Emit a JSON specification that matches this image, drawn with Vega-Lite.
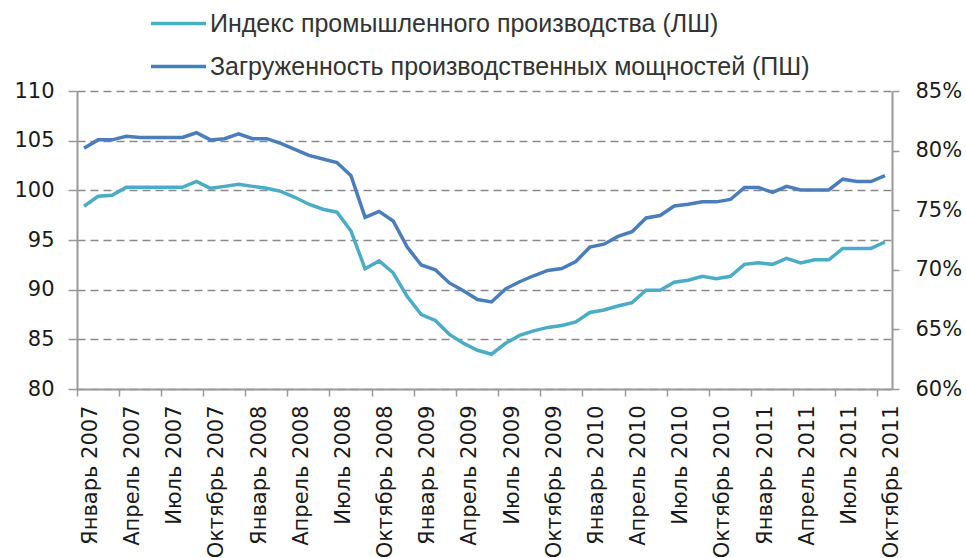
{
  "$schema": "https://vega.github.io/schema/vega-lite/v6.json",
  "autosize": {"type": "none"},
  "padding": {"left": 77, "top": 91, "right": 74, "bottom": 169},
  "width": 815,
  "height": 298,
  "background": "white",
  "config": {
    "view": {"stroke": null},
    "axis": {"labelFont": "DejaVu Sans", "labelFontSize": 21, "labelColor": "#1a1a1a", "domainColor": "#9a9a9a", "domainWidth": 2, "tickColor": "#9a9a9a", "tickWidth": 1.5, "title": null},
    "legend": {"rowPadding": -6}
  },
  "data": {"values": [
    {"m": "Январь 2007", "ip": 98.4, "cu": 80.2},
    {"m": "Февраль 2007", "ip": 99.4, "cu": 80.9},
    {"m": "Март 2007", "ip": 99.5, "cu": 80.9},
    {"m": "Апрель 2007", "ip": 100.3, "cu": 81.2},
    {"m": "Май 2007", "ip": 100.3, "cu": 81.1},
    {"m": "Июнь 2007", "ip": 100.3, "cu": 81.1},
    {"m": "Июль 2007", "ip": 100.3, "cu": 81.1},
    {"m": "Август 2007", "ip": 100.3, "cu": 81.1},
    {"m": "Сентябрь 2007", "ip": 100.9, "cu": 81.5},
    {"m": "Октябрь 2007", "ip": 100.2, "cu": 80.9},
    {"m": "Ноябрь 2007", "ip": 100.4, "cu": 81.0},
    {"m": "Декабрь 2007", "ip": 100.6, "cu": 81.4},
    {"m": "Январь 2008", "ip": 100.4, "cu": 81.0},
    {"m": "Февраль 2008", "ip": 100.2, "cu": 81.0},
    {"m": "Март 2008", "ip": 99.9, "cu": 80.6},
    {"m": "Апрель 2008", "ip": 99.3, "cu": 80.1},
    {"m": "Май 2008", "ip": 98.6, "cu": 79.6},
    {"m": "Июнь 2008", "ip": 98.1, "cu": 79.3},
    {"m": "Июль 2008", "ip": 97.8, "cu": 79.0},
    {"m": "Август 2008", "ip": 95.9, "cu": 77.9},
    {"m": "Сентябрь 2008", "ip": 92.1, "cu": 74.4},
    {"m": "Октябрь 2008", "ip": 92.9, "cu": 74.9},
    {"m": "Ноябрь 2008", "ip": 91.7, "cu": 74.1},
    {"m": "Декабрь 2008", "ip": 89.3, "cu": 71.9},
    {"m": "Январь 2009", "ip": 87.5, "cu": 70.4},
    {"m": "Февраль 2009", "ip": 86.9, "cu": 70.0},
    {"m": "Март 2009", "ip": 85.5, "cu": 68.9},
    {"m": "Апрель 2009", "ip": 84.6, "cu": 68.25},
    {"m": "Май 2009", "ip": 83.9, "cu": 67.5},
    {"m": "Июнь 2009", "ip": 83.5, "cu": 67.3},
    {"m": "Июль 2009", "ip": 84.6, "cu": 68.4},
    {"m": "Август 2009", "ip": 85.4, "cu": 69.0},
    {"m": "Сентябрь 2009", "ip": 85.85, "cu": 69.5},
    {"m": "Октябрь 2009", "ip": 86.2, "cu": 69.95},
    {"m": "Ноябрь 2009", "ip": 86.4, "cu": 70.1},
    {"m": "Декабрь 2009", "ip": 86.75, "cu": 70.7},
    {"m": "Январь 2010", "ip": 87.7, "cu": 71.9},
    {"m": "Февраль 2010", "ip": 87.95, "cu": 72.15},
    {"m": "Март 2010", "ip": 88.35, "cu": 72.8},
    {"m": "Апрель 2010", "ip": 88.7, "cu": 73.2},
    {"m": "Май 2010", "ip": 89.95, "cu": 74.35},
    {"m": "Июнь 2010", "ip": 89.95, "cu": 74.55},
    {"m": "Июль 2010", "ip": 90.75, "cu": 75.35},
    {"m": "Август 2010", "ip": 90.95, "cu": 75.5},
    {"m": "Сентябрь 2010", "ip": 91.35, "cu": 75.7},
    {"m": "Октябрь 2010", "ip": 91.1, "cu": 75.7},
    {"m": "Ноябрь 2010", "ip": 91.35, "cu": 75.9},
    {"m": "Декабрь 2010", "ip": 92.55, "cu": 76.9},
    {"m": "Январь 2011", "ip": 92.7, "cu": 76.9},
    {"m": "Февраль 2011", "ip": 92.55, "cu": 76.5},
    {"m": "Март 2011", "ip": 93.15, "cu": 77.0},
    {"m": "Апрель 2011", "ip": 92.7, "cu": 76.7},
    {"m": "Май 2011", "ip": 93.0, "cu": 76.7},
    {"m": "Июнь 2011", "ip": 93.0, "cu": 76.7},
    {"m": "Июль 2011", "ip": 94.15, "cu": 77.6},
    {"m": "Август 2011", "ip": 94.15, "cu": 77.4},
    {"m": "Сентябрь 2011", "ip": 94.15, "cu": 77.4},
    {"m": "Октябрь 2011", "ip": 94.8, "cu": 77.9}
  ]},
  "encoding": {
    "x": {
      "field": "m", "type": "ordinal", "sort": null, "bandPosition": 0.5,
      "scale": {"type": "band", "paddingInner": 0, "paddingOuter": 0},
      "axis": {
        "values": ["Январь 2007", "Апрель 2007", "Июль 2007", "Октябрь 2007", "Январь 2008", "Апрель 2008", "Июль 2008", "Октябрь 2008", "Январь 2009", "Апрель 2009", "Июль 2009", "Октябрь 2009", "Январь 2010", "Апрель 2010", "Июль 2010", "Октябрь 2010", "Январь 2011", "Апрель 2011", "Июль 2011", "Октябрь 2011"],
        "bandPosition": 0, "labelOffset": 7, "labelAngle": -90, "tickSize": 7, "labelPadding": 9, "grid": false, "labelOverlap": false, "labelBound": false
      }
    },
    "color": {
      "scale": {"domain": ["Индекс промышленного производства (ЛШ)", "Загруженность производственных мощностей (ПШ)"], "range": ["#4BACC6", "#4A7EBB"]},
      "legend": {
        "orient": "none", "legendX": 72, "legendY": -97, "title": null, "direction": "vertical",
        "symbolType": "stroke", "symbolSize": 3025, "symbolStrokeWidth": 3.5,
        "labelFont": "Liberation Sans", "labelFontSize": 25, "labelColor": "#333333", "labelOffset": 2, "labelLimit": 800, "padding": 0
      }
    }
  },
  "layer": [
    {
      "mark": {"type": "line", "strokeWidth": 3.5},
      "encoding": {
        "y": {"field": "ip", "type": "quantitative", "scale": {"domain": [80, 110], "zero": false, "nice": false},
          "axis": {"orient": "left", "values": [80, 85, 90, 95, 100, 105, 110], "tickSize": 9, "labelPadding": 14, "grid": true, "gridDash": [8, 5], "gridColor": "#8a8a8a", "gridWidth": 1.5}},
        "color": {"datum": "Индекс промышленного производства (ЛШ)"}
      }
    },
    {
      "mark": {"type": "line", "strokeWidth": 3.5},
      "encoding": {
        "y": {"field": "cu", "type": "quantitative", "scale": {"domain": [60, 85], "zero": false, "nice": false},
          "axis": {"orient": "right", "values": [60, 65, 70, 75, 80, 85], "labelExpr": "datum.value + '%'", "tickSize": 7, "labelPadding": 16, "grid": false}},
        "color": {"datum": "Загруженность производственных мощностей (ПШ)"}
      }
    }
  ],
  "resolve": {"scale": {"y": "independent"}}
}
